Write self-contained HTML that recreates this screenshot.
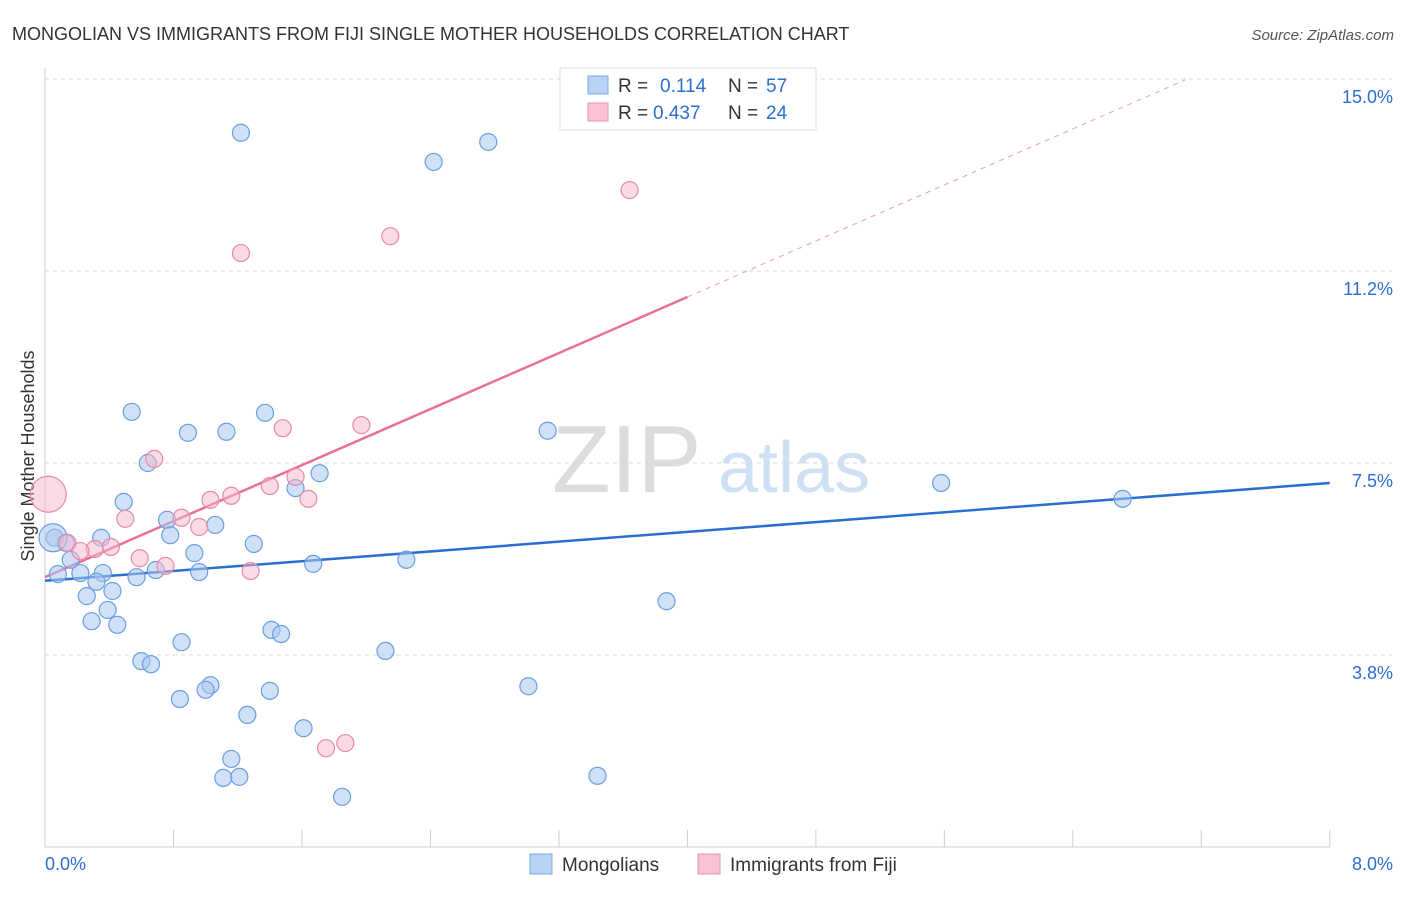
<!DOCTYPE html>
<html><head><meta charset="utf-8"><style>
body{margin:0;background:#fff;font-family:"Liberation Sans",sans-serif;}
svg text{font-family:"Liberation Sans",sans-serif;}
</style></head><body>
<svg id="chart" width="1406" height="892" xmlns="http://www.w3.org/2000/svg">
<text x="12" y="40" font-size="18" fill="#333">MONGOLIAN VS IMMIGRANTS FROM FIJI SINGLE MOTHER HOUSEHOLDS CORRELATION CHART</text>
<text x="1394" y="40" font-size="15" fill="#555" font-style="italic" text-anchor="end">Source: ZipAtlas.com</text>
<text x="34" y="456" font-size="18" fill="#333" text-anchor="middle" transform="rotate(-90 34 456)">Single Mother Households</text>
<g>
<text x="552" y="492" font-size="96" fill="#dcdcdc" font-family="Liberation Serif,serif">ZIP</text>
<text x="718" y="492" font-size="72" fill="#cfe0f4">atlas</text>
</g>
<g id="grid"></g>
<g id="axes"></g>
<g id="lines"></g>
<g id="points"></g>
<g>
<rect x="560" y="68" width="256" height="62" fill="#fff" stroke="#ddd"/>
<rect x="588" y="76" width="20" height="18" fill="#b7d2f4" stroke="#7aa8e4"/>
<text x="618" y="92" font-size="19" fill="#333">R =</text><text x="660" y="92" font-size="19" fill="#2a6fd0">0.114</text>
<text x="728" y="92" font-size="19" fill="#333">N =</text><text x="766" y="92" font-size="19" fill="#2a6fd0">57</text>
<rect x="588" y="103" width="20" height="18" fill="#f8c4d4" stroke="#e993af"/>
<text x="618" y="119" font-size="19" fill="#333">R =</text><text x="653" y="119" font-size="19" fill="#2a6fd0">0.437</text>
<text x="728" y="119" font-size="19" fill="#333">N =</text><text x="766" y="119" font-size="19" fill="#2a6fd0">24</text>
</g>
<g>
<rect x="530" y="854" width="22" height="20" fill="#b7d2f4" stroke="#7aa8e4"/>
<text x="562" y="871" font-size="19" fill="#333">Mongolians</text>
<rect x="698" y="854" width="22" height="20" fill="#f8c4d4" stroke="#e993af"/>
<text x="730" y="871" font-size="19" fill="#333">Immigrants from Fiji</text>
</g>
</svg>
<script>
const blueX=[1.22,2.42,2.76,0.54,1.37,0.89,1.13,3.13,0.64,1.71,1.56,0.49,5.58,6.71,0.06,0.35,0.76,0.78,1.06,1.30,0.13,0.16,0.93,2.25,1.67,0.08,0.36,0.22,0.69,0.96,0.57,0.32,0.42,0.26,0.39,0.29,0.45,1.41,1.47,0.85,3.87,2.12,0.60,0.66,1.03,1.00,1.40,3.01,0.84,1.26,1.61,1.16,1.11,1.21,3.44,1.85,0.05];
const blueY=[13.95,13.38,13.77,8.50,8.48,8.09,8.11,8.13,7.50,7.30,7.01,6.74,7.11,6.80,6.04,6.04,6.39,6.09,6.29,5.92,5.94,5.61,5.74,5.61,5.53,5.33,5.35,5.35,5.41,5.37,5.27,5.18,5.00,4.90,4.63,4.41,4.34,4.24,4.16,4.00,4.80,3.83,3.63,3.57,3.16,3.07,3.05,3.14,2.89,2.58,2.32,1.72,1.35,1.37,1.39,0.98,6.04];
const pinkX=[0.02,3.64,2.15,1.22,1.97,1.48,0.68,1.56,1.40,1.16,1.03,1.64,0.50,0.85,0.96,0.14,0.41,0.31,0.22,0.59,0.75,1.28,1.75,1.87];
const pinkY=[6.89,12.83,11.93,11.60,8.24,8.18,7.58,7.23,7.05,6.86,6.78,6.80,6.41,6.43,6.25,5.94,5.86,5.82,5.78,5.64,5.49,5.39,1.93,2.03];
const yTicks=[3.75,7.5,11.25,15.0];
const yTickLabels=["3.8%","7.5%","11.2%","15.0%"];
const xTickLabels=["0.0%","8.0%"];
const blueTrend=[5.20,7.11];
const pinkTrend=[5.27,1.368];
const NS="http://www.w3.org/2000/svg";
const sx=v=>45+v*160.6, sy=v=>847-v*51.2;
function mk(tag,attrs,parent){const e=document.createElementNS(NS,tag);for(const k in attrs)e.setAttribute(k,attrs[k]);document.getElementById(parent).appendChild(e);return e;}
yTicks.forEach((t,i)=>{
 const l=mk('line',{x1:45,x2:1392,y1:sy(t),y2:sy(t),stroke:'#d8d8d8','stroke-dasharray':'4,4'},'grid');
 
 
 const tx=mk('text',{x:1393,y:sy(t)+24,'font-size':18,fill:'#2a6fd0','text-anchor':'end'},'axes');
 tx.textContent=yTickLabels[i];
 
 
});
mk('line',{x1:45,x2:45,y1:68,y2:847,stroke:'#ccc'},'axes');
mk('line',{x1:45,x2:1330,y1:847,y2:847,stroke:'#ccc'},'axes');
for(let i=1;i<=10;i++){const x=sx(i*0.8);const t=mk('line',{x1:x,x2:x,y1:830,y2:847,stroke:'#ccc'},'axes');
 
 }
[[0,'start',45],[8,'end',1393]].forEach((d,i)=>{const t=mk('text',{x:d[2],y:870,'font-size':18,fill:'#2a6fd0','text-anchor':d[1]},'axes');t.textContent=xTickLabels[i];
 
 });
const bl=mk('line',{x1:sx(0),y1:sy(blueTrend[0]),x2:sx(8),y2:sy(blueTrend[1]),stroke:'#2a6fd0','stroke-width':2.5},'lines');


const pe=7.1;
const pd=mk('line',{x1:sx(4),y1:sy(pinkTrend[0]+pinkTrend[1]*4),x2:sx(pe),y2:sy(pinkTrend[0]+pinkTrend[1]*pe),stroke:'#f0a8bf','stroke-width':1.2,'stroke-dasharray':'5,5'},'lines');


const pl=mk('line',{x1:sx(0),y1:sy(pinkTrend[0]),x2:sx(4),y2:sy(pinkTrend[0]+pinkTrend[1]*4),stroke:'#e8709a','stroke-width':2.5},'lines');


blueX.forEach((x,i)=>{const c=mk('circle',{cx:sx(x),cy:sy(blueY[i]),r:i===blueX.length-1?14:8.5,fill:'rgba(169,201,240,0.55)',stroke:'#6a9ee0','stroke-width':1.2},'points');
 
 });
pinkX.forEach((x,i)=>{const c=mk('circle',{cx:sx(x),cy:sy(pinkY[i]),r:i===0?18:8.5,fill:'rgba(246,184,203,0.5)',stroke:'#e88aa8','stroke-width':1.2},'points');
 
 });
</script>
</body></html>
